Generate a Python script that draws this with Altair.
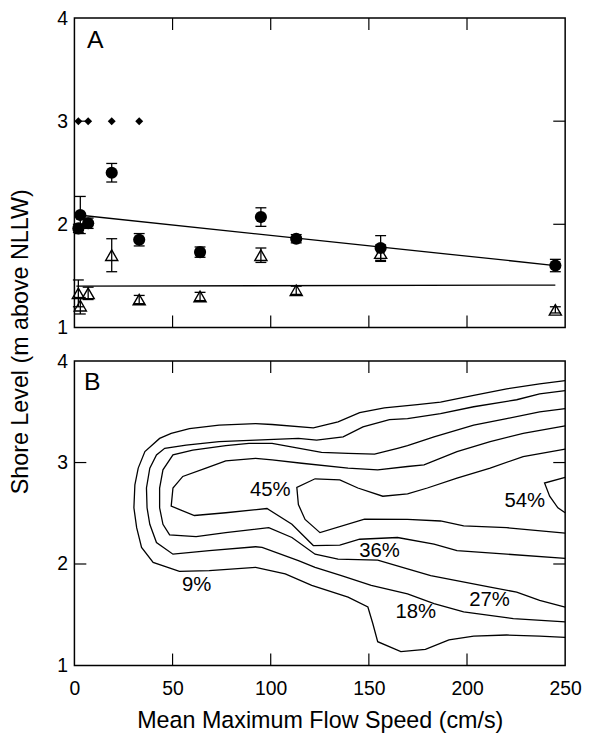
import altair as alt
import pandas as pd

FONT = "Liberation Sans, Arial, Helvetica, sans-serif"

# ---------------- Panel A data ----------------
site_speed = [2, 3, 7, 19, 33, 64, 95, 113, 156, 245]
circle_level = [1.96, 2.09, 2.01, 2.50, 1.85, 1.73, 2.07, 1.86, 1.77, 1.60]
circle_err = [0.04, 0.18, 0.05, 0.09, 0.06, 0.05, 0.09, 0.04, 0.12, 0.06]
triangle_level = [1.33, 1.21, 1.33, 1.70, 1.27, 1.30, 1.70, 1.36, 1.72, 1.17]
triangle_err = [0.13, 0.08, 0.06, 0.16, 0.04, 0.04, 0.07, 0.04, 0.08, 0.03]
diamond_speed = [2, 7, 19, 33]
diamond_level = [3, 3, 3, 3]
fit_upper_speed = [2, 245]
fit_upper_level = [2.09, 1.60]
fit_lower_speed = [1, 245]
fit_lower_level = [1.40, 1.41]

# ---------------- Panel B contour lines ----------------
c9_x = [250, 237.0, 220.2, 203.4, 186.5, 174.7, 157.9, 145.3, 134.3, 121.7, 100.7, 92.3, 73.7, 58.6,
        49.3, 43.4, 35.9, 32.5, 30.8, 30.3, 31.7, 34.2, 40.1, 53.5, 68.7, 92.3, 107.4, 120.9, 139.4,
        149.5, 152.0, 154.5, 166.3, 178.8, 190.8, 203.4, 220.2, 237.0, 250]
c9_y = [3.807, 3.775, 3.726, 3.661, 3.596, 3.570, 3.538, 3.492, 3.401, 3.342, 3.375, 3.384, 3.368, 3.335,
        3.287, 3.238, 3.108, 2.945, 2.781, 2.554, 2.358, 2.163, 2.016, 1.928, 1.935, 1.967, 1.902, 1.789,
        1.674, 1.576, 1.413, 1.234, 1.137, 1.159, 1.251, 1.290, 1.300, 1.290, 1.276]

c18_x = [250, 237.0, 225.3, 203.4, 186.5, 169.7, 160.5, 147.0, 136.9, 123.4, 114.1, 92.3, 73.7, 56.9,
         46.0, 41.8, 38.4, 36.7, 37.0, 38.4, 41.8, 50.2, 68.7, 92.3, 95.6, 114.1, 122.6, 136.0, 151.2,
         169.7, 183.2, 198.3, 223.6, 250]
c18_y = [3.71, 3.678, 3.619, 3.55, 3.482, 3.433, 3.423, 3.352, 3.254, 3.221, 3.238, 3.221, 3.206, 3.172,
         3.140, 3.075, 2.945, 2.749, 2.554, 2.391, 2.212, 2.097, 2.131, 2.170, 2.163, 2.033, 1.967, 1.886,
         1.789, 1.706, 1.609, 1.528, 1.462, 1.430]

c27_x = [250, 237.0, 220.2, 203.4, 183.2, 169.7, 164.6, 152.9, 139.4, 125.9, 100.7, 88.9, 77.1, 60.3,
         50.2, 45.1, 43.4, 43.4, 45.1, 48.5, 62.0, 77.1, 99.0, 110.8, 122.6, 134.3, 154.5, 169.7, 181.5,
         211.8, 225.3, 237.0, 250]
c27_y = [3.531, 3.499, 3.433, 3.368, 3.254, 3.166, 3.140, 3.084, 3.091, 3.101, 3.189, 3.189, 3.166, 3.123,
         3.075, 2.928, 2.749, 2.554, 2.391, 2.287, 2.270, 2.309, 2.358, 2.261, 2.097, 2.049, 2.039, 1.951,
         1.886, 1.772, 1.723, 1.642, 1.576]

c36_x = [250, 228.6, 211.8, 194.9, 178.1, 169.7, 154.5, 139.4, 115.8, 100.7, 92.3, 77.1, 67.0, 55.2,
         50.2, 49.3, 61.1, 77.1, 98.1, 110.8, 121.7, 135.2, 145.3, 164.6, 183.2, 194.9, 220.2, 250]
c36_y = [3.362, 3.287, 3.206, 3.108, 2.977, 2.961, 2.928, 2.945, 2.993, 3.026, 3.042, 3.016, 2.945, 2.863,
         2.749, 2.570, 2.478, 2.505, 2.547, 2.391, 2.182, 2.185, 2.244, 2.261, 2.195, 2.131, 2.097, 2.055]

c45_x = [250, 228.6, 211.8, 194.9, 179.8, 169.7, 157.1, 144.4, 135.2, 122.6, 113.3, 114.1, 117.5, 125.1,
         147.8, 169.7, 186.5, 198.3, 220.2, 250]
c45_y = [3.133, 3.059, 2.945, 2.847, 2.749, 2.691, 2.668, 2.749, 2.830, 2.840, 2.756, 2.586, 2.439, 2.309,
         2.441, 2.439, 2.424, 2.375, 2.358, 2.304]

c54_x = [250, 239.5, 242.1, 246.3, 250]
c54_y = [2.854, 2.798, 2.668, 2.554, 2.505]

contour_names = ["9%", "18%", "27%", "36%", "45%", "54%"]
contour_xs = [c9_x, c18_x, c27_x, c36_x, c45_x, c54_x]
contour_ys = [c9_y, c18_y, c27_y, c36_y, c45_y, c54_y]

label_text = ["9%", "18%", "27%", "36%", "45%", "54%"]
label_x = [62.3, 173.9, 211.5, 155.4, 99.8, 229.4]
label_y = [1.789, 1.528, 1.648, 2.130, 2.733, 2.619]

x_ticks = [0, 50, 100, 150, 200, 250]
y_ticks = [1, 2, 3, 4]
inner_x_ticks = [50, 100, 150, 200]
inner_y_ticks = [2, 3]

# ---------------- tables ----------------
circles = pd.DataFrame({"x": site_speed, "y": circle_level, "e": circle_err})
circles["lo"] = circles["y"] - circles["e"]
circles["hi"] = circles["y"] + circles["e"]
triangles = pd.DataFrame({"x": site_speed, "y": triangle_level, "e": triangle_err})
triangles["lo"] = triangles["y"] - triangles["e"]
triangles["hi"] = triangles["y"] + triangles["e"]
errs = pd.concat([circles, triangles], ignore_index=True)
caps = pd.concat([errs[["x", "lo"]].rename(columns={"lo": "y"}),
                  errs[["x", "hi"]].rename(columns={"hi": "y"})], ignore_index=True)
diamonds = pd.DataFrame({"x": diamond_speed, "y": diamond_level})
fits = pd.concat([
    pd.DataFrame({"g": "upper", "x": fit_upper_speed, "y": fit_upper_level, "i": range(2)}),
    pd.DataFrame({"g": "lower", "x": fit_lower_speed, "y": fit_lower_level, "i": range(2)}),
], ignore_index=True)

rows = []
for name, xs, ys in zip(contour_names, contour_xs, contour_ys):
    for i, (a, b) in enumerate(zip(xs, ys)):
        rows.append({"level": name, "i": i, "x": a, "y": b})
contours = pd.DataFrame(rows)
labels = pd.DataFrame({"t": label_text, "x": label_x, "y": label_y})

xticks_df = pd.DataFrame({"x": inner_x_ticks})
yticks_df = pd.DataFrame({"y": inner_y_ticks})

# ---------------- helpers ----------------
W = 495
HA = 312
HB = 307
TICK = 12
xscale = alt.Scale(domain=[0, 250], nice=False, zero=False)
yscale = alt.Scale(domain=[1, 4], nice=False, zero=False)

label_style = dict(labelFont=FONT, labelFontSize=19.5, labelColor="black", labelFlush=False,
                   labelOverlap=False, ticks=False, tickSize=0, domain=False, grid=False)
title_style = dict(titleFont=FONT, titleFontSize=23.5, titleFontWeight="normal", titleColor="black")


def make_panel(h, x_axis, y_axis, marks, letter, lx, ly):
    def X(field="x"):
        return alt.X(f"{field}:Q", scale=xscale, axis=x_axis)

    def Y(field="y"):
        return alt.Y(f"{field}:Q", scale=yscale, axis=y_axis)

    xt = alt.Chart(xticks_df)
    yt = alt.Chart(yticks_df)
    ticks = [
        xt.mark_rule(color="black", strokeWidth=1.2).encode(x=X(), y=alt.value(h), y2=alt.value(h - TICK)),
        xt.mark_rule(color="black", strokeWidth=1.2).encode(x=X(), y=alt.value(0), y2=alt.value(TICK)),
        yt.mark_rule(color="black", strokeWidth=1.2).encode(y=Y(), x=alt.value(0), x2=alt.value(TICK)),
        yt.mark_rule(color="black", strokeWidth=1.2).encode(y=Y(), x=alt.value(W - TICK), x2=alt.value(W)),
    ]
    letter_mark = alt.Chart(pd.DataFrame({"t": [letter]})).mark_text(
        font=FONT, fontSize=25, color="black", align="center", baseline="middle"
    ).encode(x=alt.value(lx), y=alt.value(ly), text="t:N")
    return alt.layer(*ticks, *marks(X, Y), letter_mark).properties(width=W, height=h)


# ---------------- Panel A ----------------
yA_axis = alt.Axis(values=y_ticks, labelPadding=7, title="Shore Level (m above NLLW)",
                   titleAngle=270, titleX=-42, titleY=326, titleAlign="center",
                   titleBaseline="bottom", **label_style, **title_style)


def marks_a(X, Y):
    fit_lines = alt.Chart(fits).mark_line(color="black", strokeWidth=1.3).encode(
        x=X(), y=Y(), detail="g:N", order="i:Q")
    err_rules = alt.Chart(errs).mark_rule(color="black", strokeWidth=1.3).encode(
        x=X(), y=Y("lo"), y2="hi:Q")
    err_caps = alt.Chart(caps).mark_point(shape="stroke", size=121, filled=False, color="black",
                                          strokeWidth=1.3, opacity=1).encode(x=X(), y=Y())
    circ = alt.Chart(circles).mark_point(shape="circle", size=150, filled=True, color="black",
                                         opacity=1).encode(x=X(), y=Y())
    tri = alt.Chart(triangles).mark_point(shape="triangle-up", size=150, filled=False, color="black",
                                          strokeWidth=1.4, opacity=1).encode(x=X(), y=Y())
    dia = alt.Chart(diamonds).mark_point(shape="diamond", size=64, filled=True, color="black",
                                         opacity=1).encode(x=X(), y=Y())
    return [fit_lines, err_rules, err_caps, circ, tri, dia]


panelA = make_panel(HA, None, yA_axis, marks_a, "A", 21, 22)

# ---------------- Panel B ----------------
yB_axis = alt.Axis(values=y_ticks, labelPadding=7, title=None, **label_style)
xB_axis = alt.Axis(values=x_ticks, labelPadding=14, title="Mean Maximum Flow Speed (cm/s)",
                   titlePadding=11, **label_style, **title_style)


def marks_b(X, Y):
    contour_lines = alt.Chart(contours).mark_line(color="black", strokeWidth=1.3).encode(
        x=X(), y=Y(), detail="level:N", order="i:Q")
    contour_text = alt.Chart(labels).mark_text(
        font=FONT, fontSize=20.5, color="black", align="center", baseline="middle"
    ).encode(x=X(), y=Y(), text="t:N")
    return [contour_lines, contour_text]


panelB = make_panel(HB, xB_axis, yB_axis, marks_b, "B", 18, 21)

chart = alt.vconcat(panelA, panelB, spacing=34, bounds="flush").properties(
    padding={"top": -4, "left": 0, "right": 0, "bottom": 0}
).configure(background="white").configure_view(stroke="black", strokeWidth=1.5)

chart.save("out.html", embed_options={"renderer": "svg", "actions": False})
